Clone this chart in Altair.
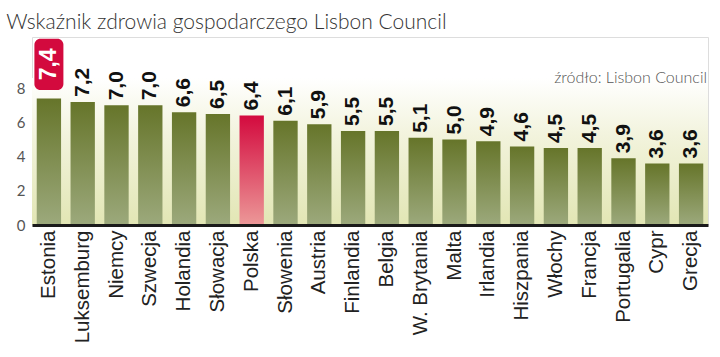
import altair as alt
import pandas as pd

countries = ["Estonia", "Luksemburg", "Niemcy", "Szwecja", "Holandia", "Słowacja",
             "Polska", "Słowenia", "Austria", "Finlandia", "Belgia", "W. Brytania",
             "Malta", "Irlandia", "Hiszpania", "Włochy", "Francja", "Portugalia",
             "Cypr", "Grecja"]
values = [7.4, 7.2, 7.0, 7.0, 6.6, 6.5, 6.4, 6.1, 5.9, 5.5, 5.5, 5.1, 5.0, 4.9,
          4.6, 4.5, 4.5, 3.9, 3.6, 3.6]
highlight = "Polska"
leader = "Estonia"
title_text = "Wskaźnik zdrowia gospodarczego Lisbon Council"
source_text = "źródło: Lisbon Council"
y_ticks = [0, 2, 4, 6, 8]

df = pd.DataFrame({"kraj": countries, "val": values})
df["lab"] = df["val"].map(lambda v: f"{v:.1f}".replace(".", ","))

green = alt.Gradient(gradient="linear", x1=0, x2=0, y1=0, y2=1,
                     stops=[alt.GradientStop(color="#66752a", offset=0),
                            alt.GradientStop(color="#9ca97c", offset=1)])
red = alt.Gradient(gradient="linear", x1=0, x2=0, y1=0, y2=1,
                   stops=[alt.GradientStop(color="#d30a3e", offset=0),
                          alt.GradientStop(color="#ec9898", offset=1)])
bg = alt.Gradient(gradient="linear", x1=0, x2=0, y1=0, y2=1,
                  stops=[alt.GradientStop(color="#ffffff", offset=0),
                         alt.GradientStop(color="#f2f3dc", offset=0.4),
                         alt.GradientStop(color="#e2e6b4", offset=1)])

W, H = 676, 188
xenc = alt.X("kraj:N", sort=countries,
             scale=alt.Scale(paddingInner=0.28, paddingOuter=0.14),
             axis=alt.Axis(title=None, labelAngle=270, labelAlign="right",
                           labelBaseline="middle", labelFontSize=20.5,
                           labelFont="Liberation Sans", labelColor="#222",
                           labelPadding=5, ticks=False, domainColor="#1a1a1a",
                           domainWidth=3, grid=False, zindex=2))
yscale = alt.Scale(domain=[0, 11], nice=False)

base = alt.Chart(df)

background = alt.Chart(pd.DataFrame({"k": [0]})).mark_rect(color=bg).encode(
    x=alt.value(0), x2=alt.value(W),
    y=alt.Y(datum=8.6, scale=yscale), y2=alt.Y2(datum=0))

bars = base.transform_filter(alt.datum.kraj != highlight).mark_bar(color=green).encode(
    x=xenc,
    y=alt.Y("val:Q", scale=yscale,
            axis=alt.Axis(title=None, values=y_ticks, labelFontSize=15,
                          labelColor="#555", labelFont="Lato", ticks=False,
                          domain=False, labelPadding=7, gridDash=[3, 3],
                          gridColor="#333", gridOpacity=0.75, gridWidth=1.2,
                          zindex=1)))

bar_hl = base.transform_filter(alt.datum.kraj == highlight).mark_bar(color=red).encode(
    x=alt.X("kraj:N", sort=countries), y="val:Q")

labels = base.transform_filter(alt.datum.kraj != leader).mark_text(
    angle=270, align="left", baseline="middle", dx=5, fontSize=21,
    fontWeight="bold", font="Liberation Sans", color="#111").encode(
    x=alt.X("kraj:N", sort=countries), y="val:Q", text="lab:N")

box = base.transform_filter(alt.datum.kraj == leader).transform_calculate(
    lo="datum.val + 0.5", hi="datum.val + 3.5").mark_bar(
    color="#d30a3e", width=29, cornerRadius=6).encode(
    x=alt.X("kraj:N", sort=countries), y="lo:Q", y2="hi:Q")

box_text = base.transform_filter(alt.datum.kraj == leader).transform_calculate(
    mid="datum.val + 2.0").mark_text(
    angle=270, align="center", baseline="middle", fontSize=23,
    fontWeight="bold", font="Liberation Sans", color="white").encode(
    x=alt.X("kraj:N", sort=countries), y="mid:Q", text="lab:N")

source = alt.Chart(pd.DataFrame({"t": [source_text]})).mark_text(
    align="right", baseline="alphabetic", fontSize=16, font="Lato",
    fontWeight=300, color="#555").encode(
    x=alt.value(W - 1), y=alt.Y(datum=8.3), text="t:N")

chart = alt.layer(background, bars, bar_hl, labels, box, box_text, source).properties(
    width=W, height=H,
    title=alt.TitleParams(title_text, anchor="start", dx=-10, dy=19, offset=6,
                          fontSize=21, font="Lato", fontWeight=300, color="#333",
                          baseline="alphabetic"),
    autosize=alt.AutoSizeParams(type="none"),
    padding={"left": 32, "top": 37, "right": 12, "bottom": 132},
).configure_view(stroke=None).configure(background="white")

chart.save("out.html", embed_options={"renderer": "svg", "actions": False})
